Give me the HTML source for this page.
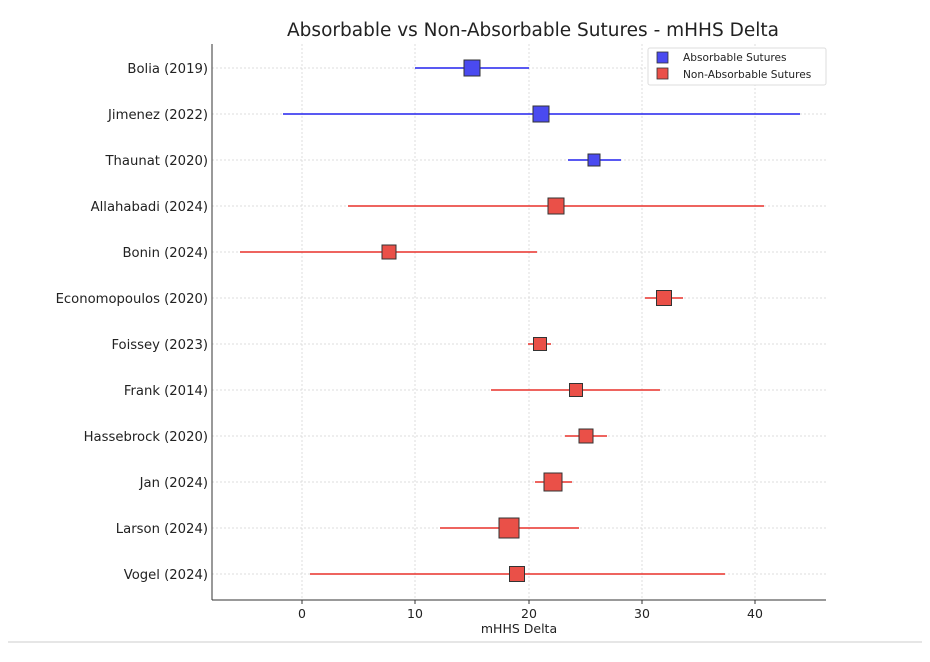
<!DOCTYPE html>
<html><head><meta charset="utf-8"><style>body{margin:0;background:#fff}svg{display:block}text{font-family:"DejaVu Sans","Liberation Sans",sans-serif;fill:#222}</style></head><body>
<svg width="930" height="662" viewBox="0 0 930 662">
<text x="533" y="36" font-size="18.5" text-anchor="middle">Absorbable vs Non-Absorbable Sutures - mHHS Delta</text>
<g stroke="#d4d4d4" stroke-width="0.8" stroke-dasharray="2,2">
<line x1="302" y1="44" x2="302" y2="600"/><line x1="415" y1="44" x2="415" y2="600"/><line x1="529" y1="44" x2="529" y2="600"/><line x1="642" y1="44" x2="642" y2="600"/><line x1="755" y1="44" x2="755" y2="600"/>
<line x1="212" y1="68" x2="826" y2="68"/><line x1="212" y1="114" x2="826" y2="114"/><line x1="212" y1="160" x2="826" y2="160"/><line x1="212" y1="206" x2="826" y2="206"/><line x1="212" y1="252" x2="826" y2="252"/><line x1="212" y1="298" x2="826" y2="298"/><line x1="212" y1="344" x2="826" y2="344"/><line x1="212" y1="390" x2="826" y2="390"/><line x1="212" y1="436" x2="826" y2="436"/><line x1="212" y1="482" x2="826" y2="482"/><line x1="212" y1="528" x2="826" y2="528"/><line x1="212" y1="574" x2="826" y2="574"/>
</g>
<g stroke="#333" stroke-width="1"><line x1="212" y1="44" x2="212" y2="600"/><line x1="212" y1="600" x2="826" y2="600"/>
<line x1="302" y1="600" x2="302" y2="604"/><line x1="415" y1="600" x2="415" y2="604"/><line x1="529" y1="600" x2="529" y2="604"/><line x1="642" y1="600" x2="642" y2="604"/><line x1="755" y1="600" x2="755" y2="604"/></g>
<g font-size="12.5" text-anchor="middle"><text x="302" y="618">0</text><text x="415" y="618">10</text><text x="529" y="618">20</text><text x="642" y="618">30</text><text x="755" y="618">40</text><text x="519" y="633">mHHS Delta</text></g>
<g font-size="13.2" text-anchor="end">
<text x="208" y="73">Bolia (2019)</text><text x="208" y="119">Jimenez (2022)</text><text x="208" y="165">Thaunat (2020)</text><text x="208" y="211">Allahabadi (2024)</text><text x="208" y="257">Bonin (2024)</text><text x="208" y="303">Economopoulos (2020)</text><text x="208" y="349">Foissey (2023)</text><text x="208" y="395">Frank (2014)</text><text x="208" y="441">Hassebrock (2020)</text><text x="208" y="487">Jan (2024)</text><text x="208" y="533">Larson (2024)</text><text x="208" y="579">Vogel (2024)</text>
</g>
<g stroke-width="1.6">
<line x1="415" y1="68" x2="529" y2="68" stroke="#2222ee"/><line x1="283" y1="114" x2="800" y2="114" stroke="#2222ee"/><line x1="568" y1="160" x2="621" y2="160" stroke="#2222ee"/>
<g stroke="#e8302a"><line x1="348" y1="206" x2="764" y2="206"/><line x1="240" y1="252" x2="537" y2="252"/><line x1="645" y1="298" x2="683" y2="298"/><line x1="528" y1="344" x2="551" y2="344"/><line x1="491" y1="390" x2="660" y2="390"/><line x1="565" y1="436" x2="607" y2="436"/><line x1="535" y1="482" x2="572" y2="482"/><line x1="440" y1="528" x2="579" y2="528"/><line x1="310" y1="574" x2="725" y2="574"/></g>
</g>
<g stroke="#333" stroke-width="1">
<g fill="#4a4af0"><rect x="464" y="60" width="16" height="16"/><rect x="533" y="106" width="16" height="16"/><rect x="588" y="154" width="12" height="12"/></g>
<g fill="#ea5048"><rect x="548" y="198" width="16" height="16"/><rect x="382" y="245" width="14" height="14"/><rect x="656.5" y="290.5" width="15" height="15"/><rect x="533.5" y="337.5" width="13" height="13"/><rect x="569.5" y="383.5" width="13" height="13"/><rect x="579" y="429" width="14" height="14"/><rect x="544" y="473" width="18" height="18"/><rect x="499" y="518" width="20" height="20"/><rect x="509.5" y="566.5" width="15" height="15"/></g>
</g>
<rect x="648" y="48" width="178" height="37" fill="#fff" stroke="#ddd" rx="2"/>
<rect x="657" y="52" width="11" height="11" fill="#4a4af0" stroke="#333" stroke-width="0.8"/>
<rect x="657" y="68" width="11" height="11" fill="#ea5048" stroke="#333" stroke-width="0.8"/>
<text x="683" y="61" font-size="10.6">Absorbable Sutures</text>
<text x="683" y="78" font-size="10.6">Non-Absorbable Sutures</text>
<line x1="8" y1="642" x2="922" y2="642" stroke="#e6e6e6" stroke-width="2"/>
</svg>
</body></html>
